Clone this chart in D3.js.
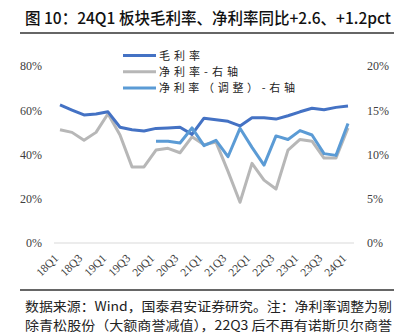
<!DOCTYPE html>
<html><head><meta charset="utf-8">
<script src="https://cdn.jsdelivr.net/npm/d3@7/dist/d3.min.js"></script>
<style>body{margin:0;background:#fff}svg{display:block}</style>
</head><body><svg id="c" width="413" height="336"></svg>
<script>
const categories = ["18Q1","18Q2","18Q3","18Q4","19Q1","19Q2","19Q3","19Q4","20Q1","20Q2","20Q3","20Q4","21Q1","21Q2","21Q3","21Q4","22Q1","22Q2","22Q3","22Q4","23Q1","23Q2","23Q3","23Q4","24Q1"];
const grossMargin = [62.4,60.1,57.9,58.3,59.3,52.3,51.2,50.6,51.8,52.0,52.3,49.1,56.4,55.7,55.0,52.9,56.6,56.6,56.0,57.5,59.3,60.9,60.2,61.3,61.9];
const netMargin = [12.8,12.5,11.6,12.5,14.6,12.2,8.6,8.6,10.5,10.7,10.2,12.0,11.1,11.4,8.1,4.6,9.0,7.1,6.1,10.5,11.7,11.5,9.6,9.6,13.0];
const netAdjusted = [null,null,null,null,null,null,null,null,11.5,11.5,11.3,13.0,11.0,11.6,9.75,12.96,10.8,8.8,12.1,11.7,12.7,12.2,10.1,9.9,13.5];
const leftTicks = [0,20,40,60,80];
const rightTicks = [0,5,10,15,20];
const xTickLabels = ["18Q1","18Q3","19Q1","19Q3","20Q1","20Q3","21Q1","21Q3","22Q1","22Q3","23Q1","23Q3","24Q1"];
const seriesNames = ["毛利率","净利率-右轴","净利率（调整）-右轴"];
const title = "图 10：24Q1 板块毛利率、净利率同比+2.6、+1.2pct";
const footer = ["数据来源：Wind，国泰君安证券研究。注：净利率调整为剔","除青松股份（大额商誉减值），22Q3 后不再有诺斯贝尔商誉"];

const svg = d3.select("#c");
const cjk = "'Noto Sans CJK SC','Noto Sans',sans-serif";
const num = "'Liberation Serif','DejaVu Serif',serif";
const x = d3.scalePoint().domain(categories).range([54,354]).padding(0.5);
const yL = d3.scaleLinear().domain([0,80]).range([243,66]);
const yR = d3.scaleLinear().domain([0,20]).range([243,66]);

// title
svg.append("text").attr("x",25).attr("y",24).attr("font-family",cjk).attr("font-size",16).attr("font-weight",500)
  .attr("fill","#111").attr("textLength",366).attr("lengthAdjust","spacingAndGlyphs").text(title);
svg.append("line").attr("x1",20).attr("x2",394).attr("y1",33).attr("y2",33).attr("stroke","#333").attr("stroke-width",1.6);

// axis line
svg.append("line").attr("x1",54).attr("x2",354).attr("y1",yL(0)).attr("y2",yL(0)).attr("stroke","#d9d9d9").attr("stroke-width",1);

// left / right ticks
const gl = svg.append("g").attr("transform","translate(42,0)").call(d3.axisLeft(yL).tickValues(leftTicks).tickSize(0).tickFormat(d=>d+"%"));
gl.select(".domain").remove();
gl.selectAll("text").attr("font-family",num).attr("font-size",12).attr("fill","#404040").attr("x",0);
const gr = svg.append("g").attr("transform","translate(367,0)").call(d3.axisRight(yR).tickValues(rightTicks).tickSize(0).tickFormat(d=>d+"%"));
gr.select(".domain").remove();
gr.selectAll("text").attr("font-family",num).attr("font-size",12).attr("fill","#404040").attr("x",0);

// x labels
svg.append("g").selectAll("text").data(xTickLabels).join("text")
  .attr("transform",d=>`translate(${x(d)-1},259) rotate(-45)`)
  .attr("text-anchor","end").attr("font-family",num).attr("font-size",11.5).attr("fill","#404040").text(d=>d);

// lines
const mk = (ys)=>d3.line().defined(d=>d[1]!=null).x(d=>x(d[0])).y(d=>ys(d[1]));
const series = [
  {vals:netMargin, ys:yR, color:"#b7b7b7"},
  {vals:grossMargin, ys:yL, color:"#4472c4"},
  {vals:netAdjusted, ys:yR, color:"#5b9bd5"}
];
series.forEach(s=>{
  svg.append("path").datum(categories.map((c,i)=>[c,s.vals[i]]))
    .attr("d",mk(s.ys)).attr("fill","none").attr("stroke",s.color).attr("stroke-width",3).attr("stroke-linejoin","round");
});

// legend
const legColors = ["#4472c4","#b7b7b7","#5b9bd5"];
const legLens = [41,79,136];
const lg = svg.append("g");
seriesNames.forEach((n,i)=>{
  const yy = 55.5 + i*16.3;
  lg.append("line").attr("x1",123).attr("x2",156).attr("y1",yy).attr("y2",yy).attr("stroke",legColors[i]).attr("stroke-width",3);
  lg.append("text").attr("x",159).attr("y",yy+4).attr("font-family",cjk).attr("font-size",11).attr("fill","#222")
    .attr("textLength",legLens[i]).attr("lengthAdjust","spacing").text(n);
});

// footer
svg.append("line").attr("x1",20).attr("x2",394).attr("y1",290).attr("y2",290).attr("stroke","#333").attr("stroke-width",1.6);
footer.forEach((t,i)=>{
  svg.append("text").attr("x",25).attr("y",311+i*19).attr("font-family",cjk).attr("font-size",13).attr("fill","#222")
    .attr("textLength",367).attr("lengthAdjust","spacingAndGlyphs").text(t);
});
</script></body></html>
